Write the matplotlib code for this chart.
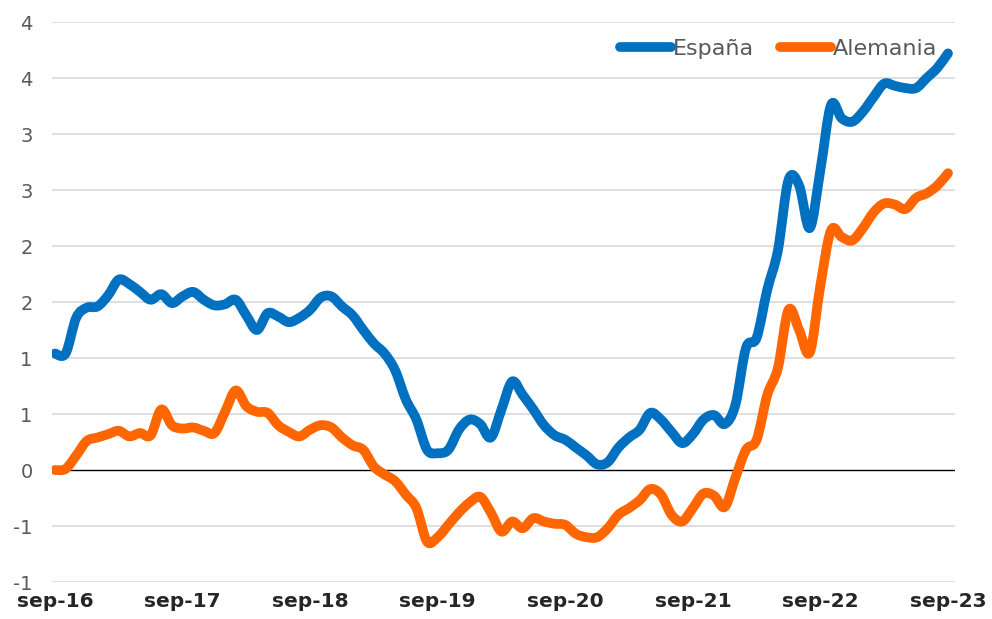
import matplotlib
matplotlib.use("Agg")
import matplotlib.pyplot as plt
from matplotlib.path import Path
from matplotlib.patches import PathPatch
from matplotlib.lines import Line2D
import numpy as np

# Monthly data from sep-16 to sep-23
espana = [1.04, 1.04, 1.36, 1.45, 1.46, 1.56, 1.70, 1.66, 1.59, 1.52,
          1.57, 1.49, 1.55, 1.59, 1.52, 1.47, 1.48, 1.52, 1.38, 1.25,
          1.40, 1.37, 1.32, 1.36, 1.43, 1.54, 1.55, 1.46, 1.38, 1.25,
          1.13, 1.04, 0.89, 0.63, 0.45, 0.18, 0.15, 0.18, 0.36, 0.45,
          0.41, 0.29, 0.54, 0.79, 0.67, 0.54, 0.40, 0.31, 0.27, 0.20,
          0.13, 0.05, 0.07, 0.20, 0.29, 0.36, 0.51, 0.45, 0.34, 0.24,
          0.32, 0.45, 0.49, 0.41, 0.58, 1.09, 1.18, 1.61, 1.96, 2.59,
          2.54, 2.16, 2.68, 3.26, 3.14, 3.11, 3.20, 3.33, 3.45, 3.43,
          3.41, 3.41, 3.50, 3.59, 3.72]
alemania = [0.00, 0.01, 0.13, 0.26, 0.29, 0.32, 0.35, 0.30, 0.33, 0.31,
            0.54, 0.40, 0.37, 0.38, 0.35, 0.33, 0.52, 0.71, 0.57, 0.52,
            0.51, 0.40, 0.34, 0.30, 0.36, 0.40, 0.38, 0.29, 0.22, 0.18,
            0.03, -0.04, -0.10, -0.22, -0.34, -0.64, -0.60, -0.49, -0.38, -0.29,
            -0.24, -0.38, -0.55, -0.46, -0.52, -0.43, -0.46, -0.48, -0.49, -0.57,
            -0.60, -0.60, -0.52, -0.40, -0.34, -0.27, -0.17, -0.22, -0.40, -0.46,
            -0.34, -0.21, -0.23, -0.33, -0.07, 0.18, 0.27, 0.67, 0.91, 1.43,
            1.25, 1.05, 1.65, 2.14, 2.08, 2.05, 2.16, 2.30, 2.38, 2.37,
            2.33, 2.43, 2.47, 2.54, 2.65]
x_tick_labels = ["sep-16", "sep-17", "sep-18", "sep-19", "sep-20", "sep-21", "sep-22", "sep-23"]
y_ticks = [-1.0, -0.5, 0.0, 0.5, 1.0, 1.5, 2.0, 2.5, 3.0, 3.5, 4.0]
y_tick_labels = ["-1", "-1", "0", "1", "1", "2", "2", "3", "3", "4", "4"]
series_names = ["España", "Alemania"]
colors = ["#0070C0", "#FF6600"]


def smooth_path(xs, ys):
    """Excel-style smoothed line: cubic Bezier through every data point."""
    xs = np.asarray(xs, float)
    ys = np.asarray(ys, float)
    n = len(xs)
    verts = [(xs[0], ys[0])]
    codes = [Path.MOVETO]
    for i in range(n - 1):
        i0 = max(i - 1, 0)
        i3 = min(i + 2, n - 1)
        c1 = (xs[i] + (xs[i + 1] - xs[i0]) / 6.0, ys[i] + (ys[i + 1] - ys[i0]) / 6.0)
        c2 = (xs[i + 1] - (xs[i3] - xs[i]) / 6.0, ys[i + 1] - (ys[i3] - ys[i]) / 6.0)
        verts += [c1, c2, (xs[i + 1], ys[i + 1])]
        codes += [Path.CURVE4] * 3
    return Path(verts, codes)


fig = plt.figure(figsize=(9.92, 6.19), dpi=100)
ax = fig.add_axes([52/992, 37/619, 903/992, 560/619])

months = np.arange(len(espana))
ax.set_xlim(-0.28, 84.66)
ax.set_ylim(-1.0, 4.0)

for yv in y_ticks:
    if yv != 0:
        ax.axhline(yv, color="#D9D9D9", lw=1.2, zorder=1)
ax.axhline(0, color="#000000", lw=1.0, zorder=2)

handles = []
for vals, name, c in zip([espana, alemania], series_names, colors):
    patch = PathPatch(smooth_path(months, vals), facecolor="none", edgecolor=c,
                      lw=7, capstyle="round", joinstyle="round", zorder=3)
    ax.add_patch(patch)
    handles.append(Line2D([], [], color=c, lw=7, solid_capstyle="round", label=name))

ax.set_yticks(y_ticks)
ax.set_yticklabels(y_tick_labels, color="#595959", fontsize=14)
ax.set_xticks(np.arange(0, 85, 12))
ax.set_xticklabels(x_tick_labels, fontsize=14.5, fontweight="bold", color="#262626")
ax.tick_params(axis="both", length=0)
ax.tick_params(axis="y", pad=14)
ax.tick_params(axis="x", pad=7)
for s in ax.spines.values():
    s.set_visible(False)

leg = ax.legend(handles=handles, loc="upper right", bbox_to_anchor=(1.002, 1.005), ncol=2,
                frameon=False, handlelength=2.3, handletextpad=0.05, columnspacing=1.2,
                fontsize=16)
for t in leg.get_texts():
    t.set_color("#595959")

fig.savefig("out.png", dpi=100)
